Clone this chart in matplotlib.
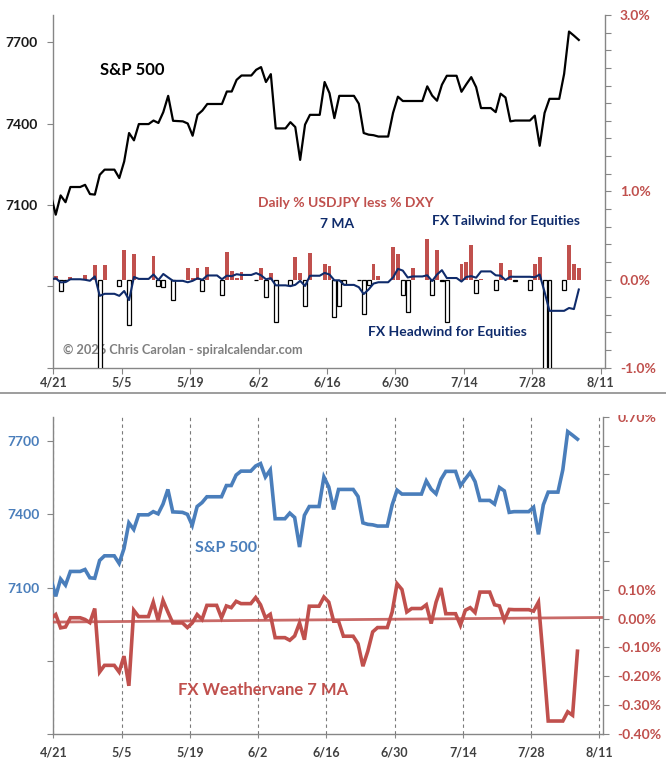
import numpy as np
import pandas as pd
import matplotlib
matplotlib.use("Agg")
import matplotlib.pyplot as plt
import matplotlib.dates as mdates
from matplotlib.lines import Line2D
from matplotlib.patches import Rectangle

plt.rcParams['font.family'] = ['Lato', 'DejaVu Sans']
plt.rcParams['font.weight'] = 'bold'

# daily values, Mon 4/20/2026 .. Thu 8/6/2026 (weekends carried forward)
dates = pd.date_range('2026-04-20', '2026-08-06', freq='D')

spx = [
    7136, 7064, 7135, 7110, 7166, 7166, 7166,
    7174, 7140, 7138, 7211, 7230, 7230, 7230,
    7199, 7260, 7365, 7338, 7398, 7398, 7398,
    7411, 7402, 7442, 7502, 7410, 7409, 7408,
    7400, 7355, 7432, 7448, 7472, 7472, 7472,
    7472, 7518, 7518, 7561, 7577, 7577, 7577,
    7598, 7608, 7553, 7582, 7382, 7382, 7382,
    7405, 7387, 7266, 7396, 7432, 7432, 7432,
    7553, 7512, 7420, 7502, 7502, 7502, 7502,
    7473, 7365, 7359, 7357, 7352, 7352, 7352,
    7439, 7499, 7483, 7483, 7483, 7483, 7483,
    7537, 7503, 7484, 7543, 7576, 7576, 7576,
    7517, 7545, 7571, 7534, 7457, 7457, 7457,
    7442, 7510, 7496, 7408, 7411, 7411, 7411,
    7411, 7429, 7318, 7439, 7491, 7491, 7491,
    7583, 7739, 7724, 7708,
]

# daily % USDJPY less % DXY (0 = no bar)
fx_daily = [
    0, 0.045, -0.13, -0.02, 0.027, 0, 0,
    0.053, 0, 0.17, -1.4, 0.16, 0, 0,
    -0.07, 0.33, -0.52, 0.29, 0, 0, 0,
    0.27, -0.07, -0.08, 0, -0.23, 0, 0,
    0.13, 0.015, 0.13, -0.13, 0.14, 0, 0,
    -0.17, 0.31, 0.10, 0.02, 0.09, 0, 0,
    -0.01, 0.13, -0.20, 0.076, -0.48, 0, 0,
    -0.06, 0.26, 0.076, -0.30, 0.30, 0, 0,
    0.18, 0.15, -0.42, -0.30, -0.05, 0, 0,
    -0.01, -0.39, -0.06, 0.18, 0.04, 0, 0,
    0.37, 0.29, -0.18, -0.37, 0.13, 0, 0,
    0.46, -0.17, 0.33, -0.02, -0.48, 0, 0,
    0.18, 0.20, 0.39, -0.155, 0.01, 0, 0,
    -0.12, 0.19, 0, 0.11, -0.02, 0, 0,
    -0.12, 0.18, 0.26, -1.4, -1.5, 0, 0,
    -0.12, 0.39, 0.18, 0.13,
]

# FX Weathervane 7 MA (%)
fx_ma = [
    0.000, 0.014, -0.032, -0.029, 0.003, 0.003, 0.003,
    -0.003, -0.014, 0.035, -0.185, -0.162, -0.162, -0.162,
    -0.185, -0.130, -0.233, 0.029, 0.007, 0.007, 0.007,
    0.057, -0.006, 0.063, 0.023, -0.015, -0.015, -0.015,
    -0.031, -0.015, 0.014, -0.003, 0.046, 0.046, 0.046,
    0.003, 0.044, 0.038, 0.060, 0.052, 0.052, 0.052,
    0.073, 0.048, 0.003, 0.015, -0.066, -0.066, -0.066,
    -0.075, -0.060, -0.015, -0.073, 0.043, 0.043, 0.043,
    0.075, 0.057, -0.009, -0.009, -0.061, -0.061, -0.061,
    -0.087, -0.165, -0.113, -0.046, -0.031, -0.031, -0.031,
    0.023, 0.121, 0.101, 0.023, 0.035, 0.035, 0.035,
    0.048, -0.017, 0.057, 0.106, 0.017, 0.017, 0.017,
    -0.023, 0.029, 0.038, 0.021, 0.092, 0.092, 0.092,
    0.048, 0.044, -0.006, 0.032, 0.031, 0.031, 0.031,
    0.031, 0.026, 0.057, -0.142, -0.355, -0.355, -0.355,
    -0.355, -0.323, -0.335, -0.113,
]

trend_dates = ['2026-04-21', '2026-08-12']
trend_vals = [-0.012, 0.004]

tick_dates = ['2026-04-21', '2026-05-05', '2026-05-19', '2026-06-02', '2026-06-16',
              '2026-06-30', '2026-07-14', '2026-07-28', '2026-08-11']
tick_labels = ['4/21', '5/5', '5/19', '6/2', '6/16', '6/30', '7/14', '7/28', '8/11']

RED = '#C0504D'
NAVY = '#0F2B6B'
BLUE = '#4A7EBB'
GRAY = '#868686'

x = mdates.date2num(dates) + 0.5  # points sit in the middle of each day slot
ticks = mdates.date2num(pd.to_datetime(tick_dates))
x0 = mdates.date2num(pd.Timestamp('2026-04-21'))
xlim = (x0, x0 + 112.8)
fx_daily = np.array(fx_daily)
fx_ma = np.array(fx_ma)

W, H = 666, 775
fig = plt.figure(figsize=(W / 100, H / 100), dpi=100)


def px_axes(l, t, r, b):
    return fig.add_axes([l / W, 1 - b / H, (r - l) / W, (b - t) / H])


def style(ax, axr):
    for a in (ax, axr):
        a.spines['top'].set_visible(False)
        for s in ('left', 'right', 'bottom'):
            a.spines[s].set_color(GRAY)
            a.spines[s].set_linewidth(1)
    ax.spines['right'].set_visible(False)
    axr.spines['left'].set_visible(False)
    axr.spines['bottom'].set_visible(False)
    ax.set_xlim(*xlim)
    ax.set_xticks(ticks)
    ax.set_xticklabels(tick_labels)


# ---------------- top panel ----------------
ax1 = px_axes(53.3, 15, 604.7, 367.7)
ax1r = ax1.twinx()
style(ax1, ax1r)
ax1.patch.set_visible(False)

ax1.plot(x, spx, color='black', lw=1.6, zorder=3)
ax1.set_ylim(6500, 7800)
ax1.set_yticks([6500, 6800, 7100, 7400, 7700])
ax1.set_yticklabels(['', '', '7100', '7400', '7700'])
ax1.tick_params(axis='y', colors=GRAY, labelcolor='#1a1a1a', labelsize=10, length=4, pad=7)
ax1.tick_params(axis='x', colors=GRAY, labelcolor='#404040', labelsize=9, length=4, pad=2)

pos = fx_daily > 0
neg = fx_daily < 0
ax1r.bar(x[pos], fx_daily[pos], width=0.8, color=RED, zorder=2)
ax1r.bar(x[neg], fx_daily[neg], width=0.8, facecolor='white', edgecolor='black',
         linewidth=0.9, zorder=2)
ax1r.plot(x, fx_ma, color=NAVY, lw=1.5, zorder=3)
ax1r.set_xlim(*xlim)
ax1r.set_ylim(-1, 3)
rt = np.round(np.arange(-1, 3.01, 0.2), 1) + 0.0
ax1r.set_yticks(rt)
ax1r.set_yticklabels([f'{abs(v) if v == 0 else v:.1f}%' if v in (3.0, 1.0, 0.0, -1.0) else ''
                      for v in rt])
ax1r.tick_params(axis='y', colors=GRAY, labelcolor=RED, labelsize=10, length=4, pad=7)

tf = fig.transFigure
def ftext(ax, px, py, s, color, size, z=1):
    ax.text(px / W, 1 - py / H, s, transform=tf, color=color, fontsize=size,
            fontweight='bold', ha='left', va='center', zorder=z)

ftext(ax1r, 100, 70, 'S&P 500', 'black', 12)
ftext(ax1r, 258, 203, 'Daily % USDJPY less % DXY', RED, 10)
ftext(ax1r, 320, 224, '7 MA', NAVY, 10)
ftext(ax1r, 432, 221, 'FX Tailwind for Equities', NAVY, 10)
ftext(ax1r, 368, 332, 'FX Headwind for Equities', NAVY, 10)
ftext(ax1r, 63, 350, '\u00a9 2026 Chris Carolan - spiralcalendar.com', '#7F7F7F', 9.2)

# separator
fig.add_artist(Line2D([0, 1], [1 - 393 / H] * 2, color='#8c8c8c', lw=1.2, transform=tf))

# ---------------- bottom panel ----------------
ax3 = px_axes(53.3, 416.7, 603.3, 734)
ax3r = ax3.twinx()
style(ax3, ax3r)
ax3.patch.set_visible(False)

ax3.plot(x, spx, color=BLUE, lw=2.6, zorder=3, solid_joinstyle='miter')
ax3.set_ylim(6500, 7800)
ax3.set_yticks([6500, 6800, 7100, 7400, 7700])
ax3.set_yticklabels(['', '', '7100', '7400', '7700'])
ax3.tick_params(axis='y', colors=GRAY, labelcolor=BLUE, labelsize=10, length=4, pad=6)
ax3.tick_params(axis='x', colors=GRAY, labelcolor='#404040', labelsize=9, length=3, pad=6)
ax3.grid(axis='x', color='#7a7a7a', linestyle=(0, (3, 3)), linewidth=0.8)

ax3r.plot(mdates.date2num(pd.to_datetime(trend_dates)), trend_vals, color=RED,
          lw=2.0, alpha=0.85, zorder=2)
ax3r.plot(x, fx_ma, color=RED, lw=2.6, zorder=3, solid_joinstyle='miter')
ax3r.set_xlim(*xlim)
ax3r.set_ylim(-0.4, 0.7)
bt = np.round(np.arange(-0.4, 0.701, 0.1), 2) + 0.0
ax3r.set_yticks(bt)
ax3r.set_yticklabels([f'{abs(v) if v == 0 else v:.2f}%' if (v <= 0.1 or v == 0.7) else ''
                      for v in bt])
ax3r.tick_params(axis='y', colors=GRAY, labelcolor=RED, labelsize=10, length=4, pad=6)

ftext(ax3r, 195, 548, 'S&P 500', BLUE, 11.5)
ftext(ax3r, 178, 690, 'FX Weathervane 7 MA', RED, 12)

# top of the 0.70% label is hidden in the original
fig.add_artist(Rectangle((608 / W, 1 - 415 / H), 58 / W, 20 / H, transform=tf,
                         facecolor='white', edgecolor='none', zorder=10))

fig.savefig('out.png', dpi=100)
